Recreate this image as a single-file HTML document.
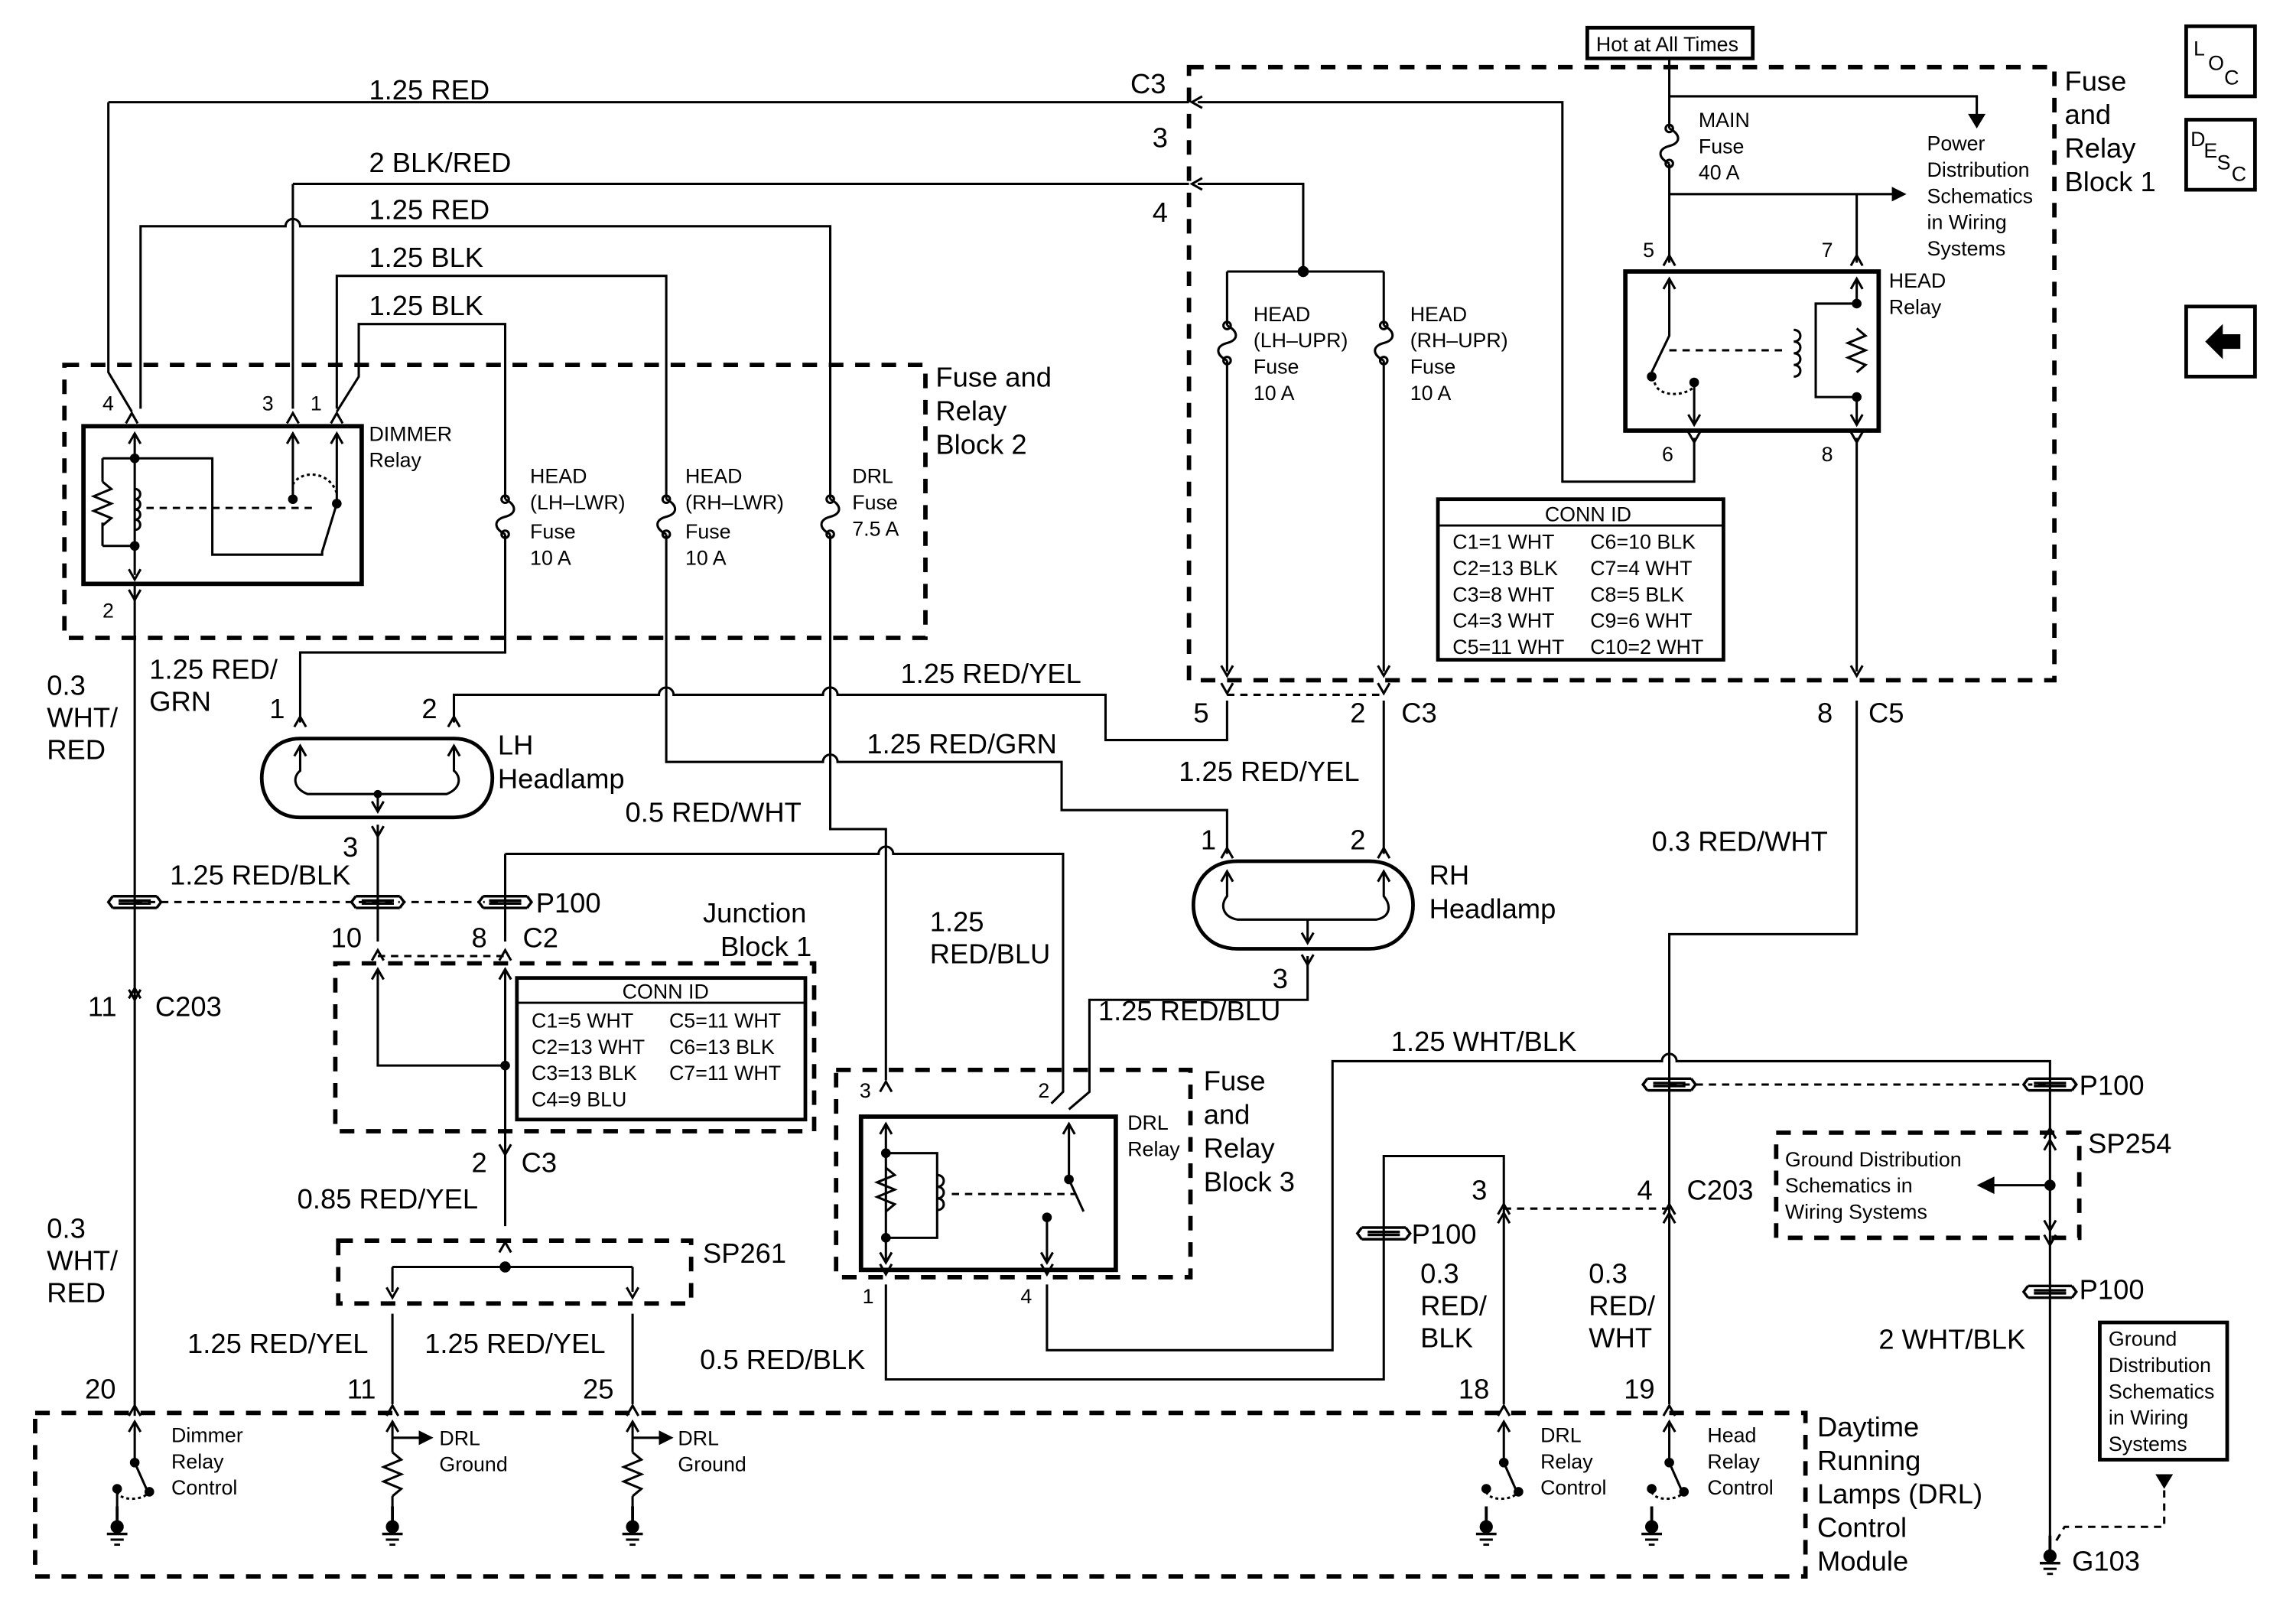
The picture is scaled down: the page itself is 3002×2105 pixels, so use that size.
<!DOCTYPE html>
<html><head><meta charset="utf-8"><style>
html,body{margin:0;padding:0;background:#fff}
svg{display:block}
text{font-family:"Liberation Sans",sans-serif;fill:#000}
.w{font-size:19px}
.s{font-size:14px}
</style></head><body>
<svg width="3002" height="2105" viewBox="0 0 1568 1103" preserveAspectRatio="none" xmlns="http://www.w3.org/2000/svg">
<defs>
<g id="cu"><path d="M-4,6 L0,-1 L4,6" fill="none" stroke="#000" stroke-width="1.6"/></g>
<g id="cd"><path d="M-4,-6 L0,1 L4,-6" fill="none" stroke="#000" stroke-width="1.6"/></g>
<g id="fz"><path d="M0,-12 C8,-8 8,-2 0,0 C-8,2 -8,8 0,12" fill="none" stroke="#000" stroke-width="1.6"/><circle cx="0" cy="-12" r="2.5"/><circle cx="0" cy="12" r="2.5"/></g>
<g id="sp"><path d="M-15,-4 L15,-4 M-15,4 L15,4 M-15,-4 L-18,0 L-15,4 M15,-4 L18,0 L15,4 M-11,-1 L11,-1 M-11,1 L11,1" fill="#fff" stroke="#000" stroke-width="1.8"/></g>
<g id="gnd"><line x1="0" y1="-14" x2="0" y2="0" stroke="#000" stroke-width="2"/><circle cx="0" cy="0" r="4.5"/><rect x="-7" y="4" width="14" height="1.8"/><rect x="-4.5" y="8" width="9" height="1.6"/><rect x="-2" y="11.5" width="4" height="1.5"/></g>
<g id="res"><path d="M0,0 l6,5 l-12,5 l12,5 l-12,5 l12,5 l-6,5" fill="none" stroke="#000" stroke-width="1.6"/></g>
</defs>
<g fill="none" stroke="#000" stroke-width="1.6">
<g stroke-width="3" stroke-dasharray="10,8">
<rect x="812" y="46" width="591" height="420"/>
<rect x="44" y="250" width="588" height="187"/>
<rect x="229" y="660" width="327" height="115"/>
<rect x="231" y="850" width="241" height="43"/>
<rect x="571" y="733" width="242" height="142"/>
<rect x="24" y="968" width="1209" height="112"/>
<rect x="1213" y="776" width="207" height="72"/>
</g>
<g stroke-dasharray="5,4">
<line x1="92" y1="618" x2="345" y2="618"/>
<line x1="258" y1="655" x2="345" y2="655"/>
<line x1="838" y1="476" x2="945" y2="476"/>
<line x1="1140" y1="743" x2="1400" y2="743"/>
<line x1="1027" y1="828" x2="1140" y2="828"/>
<path d="M1478,1012 L1478,1046 L1410,1046 L1404,1056"/>
</g>
<rect x="1084" y="19" width="113" height="21" stroke-width="2.5"/>
<path d="M1140,40 L1140,88"/><use href="#fz" x="1140" y="100"/><path d="M1140,112 L1140,180"/>
<path d="M1140,66 L1350,66 L1350,80"/>
<path d="M1140,133 L1295,133"/>
<path d="M1268,133 L1268,180"/>
<rect x="1110" y="186" width="173" height="109" stroke-width="3"/>
<path d="M1140,192 L1140,230 L1128,255"/><circle cx="1128" cy="258" r="2.5" fill="#000"/>
<path d="M1157,262 L1157,290"/><circle cx="1157" cy="262" r="2.5" fill="#000"/>
<path d="M1130,262 C1132,272 1150,272 1157,265" stroke-dasharray="2,2"/>
<path d="M1140,240 L1220,240" stroke-dasharray="5,4"/>
<path d="M1268,192 L1268,208 L1240,208 L1240,272 L1268,272 L1268,290"/>
<use href="#res" x="1268" y="225"/>
<path d="M1225,226 c6,0 6,8 0,8 c6,0 6,8 0,8 c6,0 6,8 0,8 c6,0 6,8 0,8" />
<circle cx="1268" cy="208" r="2.5" fill="#000"/><circle cx="1268" cy="272" r="2.5" fill="#000"/>
<path d="M1157,300 L1157,330 L1067,330 L1067,70 L818,70"/>
<path d="M1268,300 L1268,460"/>
<path d="M74,70 L812,70"/>
<path d="M200,126 L812,126"/>
<path d="M818,126 L890,126 L890,186"/>
<path d="M838,186 L945,186"/><circle cx="890" cy="186" r="3" fill="#000"/>
<path d="M838,186 L838,223"/><use href="#fz" x="838" y="235"/><path d="M838,247 L838,460"/>
<path d="M945,186 L945,223"/><use href="#fz" x="945" y="235"/><path d="M945,247 L945,460"/>
<path d="M74,70 L74,255 L90,282"/>
<path d="M96,280 L96,155 L195,155 A5,5 0 0 1 205,155 L567,155 L567,342"/>
<path d="M200,126 L200,280"/>
<path d="M230,280 L230,189 L455,189 L455,342"/>
<path d="M230,282 L245,258 L245,222 L345,222 L345,342"/>
<use href="#fz" x="345" y="354"/><use href="#fz" x="455" y="354"/><use href="#fz" x="567" y="354"/>
<rect x="57" y="292" width="190" height="108" stroke-width="3"/>
<path d="M92,298 L92,394"/><path d="M200,298 L200,340"/><path d="M230,298 L230,345 L220,378 L220,380 L145,380 L145,314 L92,314"/>
<path d="M70,314 L92,314 M70,374 L92,374 M70,314 L70,330 M70,358 L70,374"/>
<use href="#res" x="70" y="330"/>
<path d="M92,335 c5,0 5,7 0,7 c5,0 5,7 0,7 c5,0 5,7 0,7 c5,0 5,7 0,7"/>
<circle cx="92" cy="314" r="2.5" fill="#000"/><circle cx="92" cy="374" r="2.5" fill="#000"/>
<circle cx="200" cy="342" r="2.5" fill="#000"/><circle cx="230" cy="345" r="2.5" fill="#000"/>
<path d="M200,332 C205,322 225,322 230,338" stroke-dasharray="2,2"/>
<path d="M100,348 L215,348" stroke-dasharray="5,4"/>
<path d="M92,400 L92,970"/>
<path d="M345,366 L345,447 L205,447 L205,495"/>
<path d="M455,366 L455,522 L562,522 A5,5 0 0 1 572,522 L725,522 L725,555 L838,555 L838,585"/>
<path d="M567,366 L567,568 L605,568 L605,740"/>
<path d="M310,495 L310,476 L450,476 A5,5 0 0 1 460,476 L562,476 A5,5 0 0 1 572,476 L755,476 L755,507 L838,507 L838,480"/>
<path d="M945,480 L945,585"/>
<path d="M205,506 L310,506 C345,506 345,560 310,560 L205,560 C170,560 170,506 205,506 Z" stroke-width="2.5"/>
<path d="M205,512 L205,528 C200,532 200,540 210,544 L305,544 C315,540 315,532 310,528 L310,512"/>
<path d="M258,544 L258,556"/><circle cx="258" cy="544" r="2" fill="#000"/>
<path d="M258,565 L258,645"/><path d="M345,585 L345,645"/>
<use href="#sp" x="92" y="618"/><use href="#sp" x="258" y="618"/><use href="#sp" x="345" y="618"/>
<path d="M345,585 L600,585 A5,5 0 0 1 610,585 L726,585 L726,748 L718,756"/>
<path d="M258,665 L258,730 L345,730"/><path d="M345,665 L345,840"/><circle cx="345" cy="730" r="2.5" fill="#000"/>
<rect x="353" y="670" width="197" height="97" stroke-width="2.5"/>
<path d="M268,868 L432,868"/><circle cx="345" cy="868" r="3" fill="#000"/>
<path d="M268,868 L268,885 M432,868 L432,885"/>
<path d="M268,900 L268,962 M432,900 L432,962"/>
<path d="M845,590 L935,590 C975,590 975,650 935,650 L845,650 C805,650 805,590 845,590 Z" stroke-width="2.5"/>
<path d="M838,598 L838,614 C833,620 835,628 845,630 L940,630 C950,628 950,620 945,614 L945,598"/>
<path d="M893,630 L893,645"/>
<path d="M893,655 L893,685 L744,685 L744,748 L730,760"/>
<rect x="588" y="765" width="174" height="105" stroke-width="3"/>
<path d="M605,771 L605,864"/><path d="M605,790 L640,790 L640,848 L605,848"/>
<circle cx="605" cy="790" r="2.5" fill="#000"/><circle cx="605" cy="848" r="2.5" fill="#000"/>
<use href="#res" x="605" y="800"/>
<path d="M640,805 c6,0 6,8 0,8 c6,0 6,8 0,8 c6,0 6,8 0,8"/>
<path d="M650,818 L735,818" stroke-dasharray="5,4"/>
<path d="M730,771 L730,808 L740,830"/><circle cx="730" cy="808" r="2.5" fill="#000"/>
<path d="M715,834 L715,864"/><circle cx="715" cy="834" r="2.5" fill="#000"/>
<path d="M605,880 L605,945 L945,945 L945,792 L1027,792 L1027,962"/>
<use href="#sp" x="945" y="845"/>
<path d="M715,880 L715,925 L910,925 L910,727 L1135,727 A5,5 0 0 1 1145,727 L1400,727 L1400,1062"/>
<path d="M1268,480 L1268,640 L1140,640 L1140,962"/>
<circle cx="1400" cy="812" r="3" fill="#000"/>
<use href="#sp" x="1140" y="743"/><use href="#sp" x="1400" y="743"/><use href="#sp" x="1400" y="885"/>
<path d="M1400,812 L1360,812"/>
<rect x="1434" y="906" width="87" height="94" stroke-width="2.5"/>
<path d="M92,975 L92,1002 L100,1020"/><circle cx="92" cy="1002" r="2.5" fill="#000"/><circle cx="102" cy="1022" r="2.5" fill="#000"/>
<path d="M80,1022 C82,1028 95,1028 100,1024" stroke-dasharray="2,2"/><circle cx="80" cy="1020" r="2.5" fill="#000"/>
<path d="M80,1020 L80,1040"/>
<path d="M268,975 L268,995 M268,985 L290,985"/><use href="#res" x="268" y="995"/><path d="M268,1025 L268,1032"/>
<path d="M432,975 L432,985 L455,985 M432,985 L432,995"/><use href="#res" x="432" y="995"/><path d="M432,1025 L432,1032"/>
<path d="M1027,975 L1027,1002 L1035,1020"/><circle cx="1027" cy="1002" r="2.5" fill="#000"/><circle cx="1037" cy="1022" r="2.5" fill="#000"/>
<path d="M1015,1022 C1017,1028 1030,1028 1035,1024" stroke-dasharray="2,2"/><circle cx="1015" cy="1020" r="2.5" fill="#000"/>
<path d="M1140,975 L1140,1002 L1148,1020"/><circle cx="1140" cy="1002" r="2.5" fill="#000"/><circle cx="1150" cy="1022" r="2.5" fill="#000"/>
<path d="M1128,1022 C1130,1028 1143,1028 1148,1024" stroke-dasharray="2,2"/><circle cx="1128" cy="1020" r="2.5" fill="#000"/>
<rect x="1493" y="18" width="47" height="48" stroke-width="2.5"/>
<rect x="1493" y="82" width="47" height="48" stroke-width="2.5"/>
<rect x="1493" y="210" width="47" height="48" stroke-width="2.5"/>
</g>
<g fill="#000">
<path d="M1344,78 L1356,78 L1350,88 Z"/>
<path d="M1292,128 L1302,133 L1292,138 Z"/>
<path d="M1362,806 L1350,812 L1362,818 Z"/>
<path d="M1472,1010 L1484,1010 L1478,1020 Z"/>
<path d="M286,980 L296,985 L286,990 Z"/><path d="M450,980 L460,985 L450,990 Z"/>
<path d="M1506,234 L1518,222 L1518,229 L1530,229 L1530,239 L1518,239 L1518,246 Z"/>
</g>
<use href="#gnd" x="80" y="1046"/><use href="#gnd" x="268" y="1046"/><use href="#gnd" x="432" y="1046"/>
<use href="#gnd" x="1015" y="1046"/><use href="#gnd" x="1128" y="1046"/><use href="#gnd" x="1400" y="1066"/>
<g>
<use href="#cu" x="90" y="284"/><use href="#cu" x="200" y="284"/><use href="#cu" x="230" y="284"/>
<use href="#cd" x="92" y="410"/>
<use href="#cu" x="205" y="492"/><use href="#cu" x="310" y="492"/>
<use href="#cd" x="258" y="572"/>
<use href="#cd" x="838" y="474"/><use href="#cd" x="945" y="474"/><use href="#cd" x="1268" y="462"/>
<use href="#cu" x="1140" y="176"/><use href="#cu" x="1268" y="176"/>
<use href="#cd" x="1157" y="302"/><use href="#cd" x="1268" y="302"/>
<use href="#cu" x="838" y="582"/><use href="#cu" x="945" y="582"/><use href="#cd" x="893" y="660"/>
<use href="#cu" x="205" y="512"/><use href="#cu" x="310" y="512"/><use href="#cd" x="258" y="555"/>
<use href="#cu" x="838" y="598"/><use href="#cu" x="945" y="598"/><use href="#cd" x="893" y="645"/>
<use href="#cu" x="258" y="652"/><use href="#cu" x="345" y="652"/>
<use href="#cu" x="258" y="665"/><use href="#cu" x="345" y="665"/>
<use href="#cu" x="92" y="678"/><use href="#cd" x="92" y="684"/>
<use href="#cd" x="345" y="790"/><use href="#cu" x="345" y="852"/>
<use href="#cd" x="268" y="888"/><use href="#cd" x="432" y="888"/>
<use href="#cu" x="605" y="742"/>
<use href="#cd" x="605" y="872"/><use href="#cd" x="715" y="872"/>
<use href="#cu" x="1027" y="826"/><use href="#cu" x="1027" y="832"/>
<use href="#cu" x="1140" y="826"/><use href="#cu" x="1140" y="832"/>
<use href="#cu" x="92" y="964"/><use href="#cu" x="268" y="964"/><use href="#cu" x="432" y="964"/>
<use href="#cu" x="1027" y="964"/><use href="#cu" x="1140" y="964"/>
<use href="#cu" x="92" y="975"/><use href="#cu" x="268" y="975"/><use href="#cu" x="432" y="975"/>
<use href="#cu" x="1027" y="975"/><use href="#cu" x="1140" y="975"/>
<use href="#cu" x="1400" y="774"/><use href="#cu" x="1400" y="782"/><use href="#cd" x="1400" y="842"/><use href="#cd" x="1400" y="852"/>
<use href="#cu" x="92" y="298"/><use href="#cu" x="200" y="298"/><use href="#cu" x="230" y="298"/>
<use href="#cd" x="92" y="396"/><use href="#cu" x="1140" y="192"/><use href="#cu" x="1268" y="192"/>
<use href="#cd" x="1157" y="290"/><use href="#cd" x="1268" y="290"/>
<use href="#cu" x="605" y="771"/><use href="#cu" x="730" y="771"/>
<use href="#cd" x="605" y="864"/><use href="#cd" x="715" y="864"/>
<use href="#cd" x="838" y="462"/><use href="#cd" x="945" y="462"/>
</g>
<g transform="rotate(90 815 70)"><use href="#cd" x="815" y="70"/></g>
<g transform="rotate(90 815 126)"><use href="#cd" x="815" y="126"/></g>
<text x="1090" y="35" class="s">Hot at All Times</text>
<text x="1160" y="87" class="s">MAIN</text><text x="1160" y="105" class="s">Fuse</text><text x="1160" y="123" class="s">40 A</text>
<text class="s"><tspan x="1316" y="103">Power</tspan><tspan x="1316" y="121">Distribution</tspan><tspan x="1316" y="139">Schematics</tspan><tspan x="1316" y="157">in Wiring</tspan><tspan x="1316" y="175">Systems</tspan></text>
<text class="w"><tspan x="1410" y="62">Fuse</tspan><tspan x="1410" y="85">and</tspan><tspan x="1410" y="108">Relay</tspan><tspan x="1410" y="131">Block 1</tspan></text>
<text x="1122" y="176" class="s">5</text><text x="1244" y="176" class="s">7</text>
<text x="1135" y="316" class="s">6</text><text x="1244" y="316" class="s">8</text>
<text x="1290" y="197" class="s">HEAD</text><text x="1290" y="215" class="s">Relay</text>
<text class="s"><tspan x="856" y="220">HEAD</tspan><tspan x="856" y="238">(LH–UPR)</tspan><tspan x="856" y="256">Fuse</tspan><tspan x="856" y="274">10 A</tspan></text>
<text class="s"><tspan x="963" y="220">HEAD</tspan><tspan x="963" y="238">(RH–UPR)</tspan><tspan x="963" y="256">Fuse</tspan><tspan x="963" y="274">10 A</tspan></text>
<rect x="982" y="342" width="195" height="110" fill="none" stroke="#000" stroke-width="2.5"/>
<line x1="982" y1="360" x2="1177" y2="360" stroke="#000" stroke-width="1.5"/>
<text x="1055" y="357" class="s">CONN ID</text>
<text class="s"><tspan x="992" y="376">C1=1 WHT</tspan><tspan x="992" y="394">C2=13 BLK</tspan><tspan x="992" y="412">C3=8 WHT</tspan><tspan x="992" y="430">C4=3 WHT</tspan><tspan x="992" y="448">C5=11 WHT</tspan></text>
<text class="s"><tspan x="1086" y="376">C6=10 BLK</tspan><tspan x="1086" y="394">C7=4 WHT</tspan><tspan x="1086" y="412">C8=5 BLK</tspan><tspan x="1086" y="430">C9=6 WHT</tspan><tspan x="1086" y="448">C10=2 WHT</tspan></text>
<text x="772" y="64" class="w">C3</text><text x="787" y="101" class="w">3</text><text x="787" y="152" class="w">4</text>
<text x="252" y="68" class="w">1.25 RED</text>
<text x="252" y="118" class="w">2 BLK/RED</text>
<text x="252" y="150" class="w">1.25 RED</text>
<text x="252" y="183" class="w">1.25 BLK</text>
<text x="252" y="216" class="w">1.25 BLK</text>
<text class="w"><tspan x="639" y="265">Fuse and</tspan><tspan x="639" y="288">Relay</tspan><tspan x="639" y="311">Block 2</tspan></text>
<text x="70" y="281" class="s">4</text><text x="179" y="281" class="s">3</text><text x="212" y="281" class="s">1</text><text x="70" y="423" class="s">2</text>
<text x="252" y="302" class="s">DIMMER</text><text x="252" y="320" class="s">Relay</text>
<text class="s"><tspan x="362" y="331">HEAD</tspan><tspan x="362" y="349">(LH–LWR)</tspan><tspan x="362" y="369">Fuse</tspan><tspan x="362" y="387">10 A</tspan></text>
<text class="s"><tspan x="468" y="331">HEAD</tspan><tspan x="468" y="349">(RH–LWR)</tspan><tspan x="468" y="369">Fuse</tspan><tspan x="468" y="387">10 A</tspan></text>
<text class="s"><tspan x="582" y="331">DRL</tspan><tspan x="582" y="349">Fuse</tspan><tspan x="582" y="367">7.5 A</tspan></text>
<text class="w"><tspan x="32" y="476">0.3</tspan><tspan x="32" y="498">WHT/</tspan><tspan x="32" y="520">RED</tspan></text>
<text class="w"><tspan x="102" y="465">1.25 RED/</tspan><tspan x="102" y="487">GRN</tspan></text>
<text x="184" y="492" class="w">1</text><text x="288" y="492" class="w">2</text>
<text class="w"><tspan x="340" y="517">LH</tspan><tspan x="340" y="540">Headlamp</tspan></text>
<text x="615" y="468" class="w">1.25 RED/YEL</text>
<text x="592" y="516" class="w">1.25 RED/GRN</text>
<text x="815" y="495" class="w">5</text><text x="922" y="495" class="w">2</text><text x="957" y="495" class="w">C3</text>
<text x="1241" y="495" class="w">8</text><text x="1276" y="495" class="w">C5</text>
<text x="805" y="535" class="w">1.25 RED/YEL</text>
<text x="427" y="563" class="w">0.5 RED/WHT</text>
<text x="234" y="587" class="w">3</text>
<text x="116" y="606" class="w">1.25 RED/BLK</text>
<text x="366" y="625" class="w">P100</text>
<text x="226" y="649" class="w">10</text><text x="322" y="649" class="w">8</text><text x="357" y="649" class="w">C2</text>
<text class="w"><tspan x="480" y="632">Junction</tspan><tspan x="492" y="655">Block 1</tspan></text>
<text x="820" y="582" class="w">1</text><text x="922" y="582" class="w">2</text>
<text class="w"><tspan x="976" y="606">RH</tspan><tspan x="976" y="629">Headlamp</tspan></text>
<text x="869" y="677" class="w">3</text>
<text x="1128" y="583" class="w">0.3 RED/WHT</text>
<text class="w"><tspan x="635" y="638">1.25</tspan><tspan x="635" y="660">RED/BLU</tspan></text>
<text x="750" y="699" class="w">1.25 RED/BLU</text>
<text x="950" y="720" class="w">1.25 WHT/BLK</text>
<text x="60" y="696" class="w">11</text><text x="106" y="696" class="w">C203</text>
<line x1="353" y1="687" x2="550" y2="687" stroke="#000" stroke-width="1.5"/>
<text x="425" y="684" class="s">CONN ID</text>
<text class="s"><tspan x="363" y="704">C1=5 WHT</tspan><tspan x="363" y="722">C2=13 WHT</tspan><tspan x="363" y="740">C3=13 BLK</tspan><tspan x="363" y="758">C4=9 BLU</tspan></text>
<text class="s"><tspan x="457" y="704">C5=11 WHT</tspan><tspan x="457" y="722">C6=13 BLK</tspan><tspan x="457" y="740">C7=11 WHT</tspan></text>
<text x="322" y="803" class="w">2</text><text x="356" y="803" class="w">C3</text>
<text x="203" y="828" class="w">0.85 RED/YEL</text>
<text x="480" y="865" class="w">SP261</text>
<text class="w"><tspan x="32" y="848">0.3</tspan><tspan x="32" y="870">WHT/</tspan><tspan x="32" y="892">RED</tspan></text>
<text x="128" y="927" class="w">1.25 RED/YEL</text><text x="290" y="927" class="w">1.25 RED/YEL</text>
<text x="58" y="958" class="w">20</text><text x="237" y="958" class="w">11</text><text x="398" y="958" class="w">25</text>
<text x="478" y="938" class="w">0.5 RED/BLK</text>
<text x="587" y="752" class="s">3</text><text x="709" y="752" class="s">2</text><text x="589" y="893" class="s">1</text><text x="697" y="893" class="s">4</text>
<text x="770" y="774" class="s">DRL</text><text x="770" y="792" class="s">Relay</text>
<text class="w"><tspan x="822" y="747">Fuse</tspan><tspan x="822" y="770">and</tspan><tspan x="822" y="793">Relay</tspan><tspan x="822" y="816">Block 3</tspan></text>
<text x="1420" y="750" class="w">P100</text>
<text x="1426" y="790" class="w">SP254</text>
<text class="s"><tspan x="1219" y="799">Ground Distribution</tspan><tspan x="1219" y="817">Schematics in</tspan><tspan x="1219" y="835">Wiring Systems</tspan></text>
<text x="1005" y="822" class="w">3</text><text x="1118" y="822" class="w">4</text><text x="1152" y="822" class="w">C203</text>
<text x="964" y="852" class="w">P100</text>
<text class="w"><tspan x="970" y="879">0.3</tspan><tspan x="970" y="901">RED/</tspan><tspan x="970" y="923">BLK</tspan></text>
<text class="w"><tspan x="1085" y="879">0.3</tspan><tspan x="1085" y="901">RED/</tspan><tspan x="1085" y="923">WHT</tspan></text>
<text x="1420" y="890" class="w">P100</text>
<text x="1283" y="924" class="w">2 WHT/BLK</text>
<text class="s"><tspan x="1440" y="922">Ground</tspan><tspan x="1440" y="940">Distribution</tspan><tspan x="1440" y="958">Schematics</tspan><tspan x="1440" y="976">in Wiring</tspan><tspan x="1440" y="994">Systems</tspan></text>
<text x="996" y="958" class="w">18</text><text x="1109" y="958" class="w">19</text>
<text x="1415" y="1076" class="w">G103</text>
<text class="s"><tspan x="117" y="988">Dimmer</tspan><tspan x="117" y="1006">Relay</tspan><tspan x="117" y="1024">Control</tspan></text>
<text class="s"><tspan x="300" y="990">DRL</tspan><tspan x="300" y="1008">Ground</tspan></text>
<text class="s"><tspan x="463" y="990">DRL</tspan><tspan x="463" y="1008">Ground</tspan></text>
<text class="s"><tspan x="1052" y="988">DRL</tspan><tspan x="1052" y="1006">Relay</tspan><tspan x="1052" y="1024">Control</tspan></text>
<text class="s"><tspan x="1166" y="988">Head</tspan><tspan x="1166" y="1006">Relay</tspan><tspan x="1166" y="1024">Control</tspan></text>
<text class="w"><tspan x="1241" y="984">Daytime</tspan><tspan x="1241" y="1007">Running</tspan><tspan x="1241" y="1030">Lamps (DRL)</tspan><tspan x="1241" y="1053">Control</tspan><tspan x="1241" y="1076">Module</tspan></text>
<text x="1498" y="38" class="s">L</text><text x="1508" y="48" class="s">O</text><text x="1519" y="58" class="s">C</text>
<text x="1496" y="100" class="s">D</text><text x="1505" y="108" class="s">E</text><text x="1514" y="116" class="s">S</text><text x="1524" y="124" class="s">C</text>
</svg>
</body></html>
